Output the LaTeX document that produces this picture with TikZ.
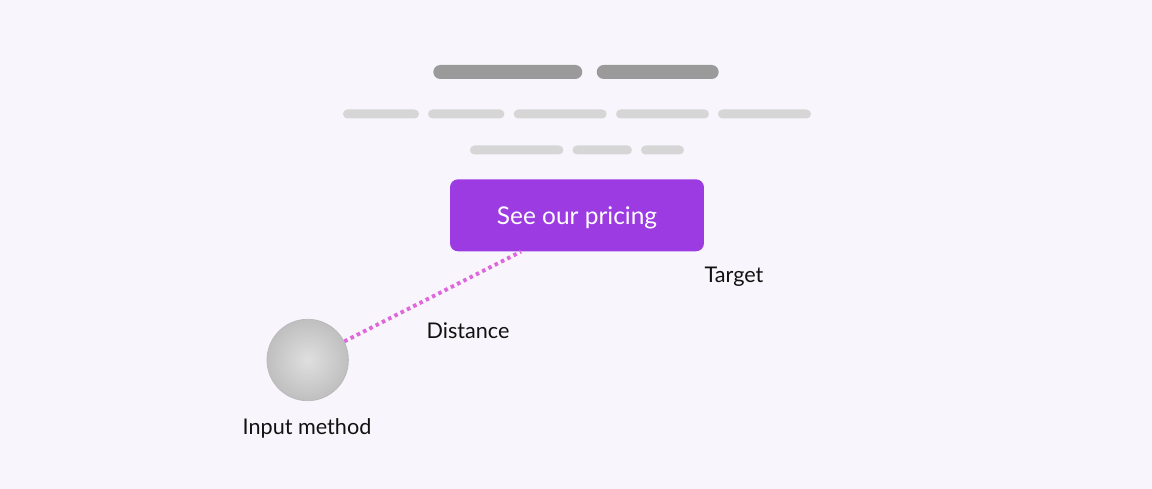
\documentclass[tikz,border=0pt]{standalone}
\usepackage{fontspec}
\setmainfont{Lato}
\usetikzlibrary{calc}

\definecolor{pagebg}{HTML}{F8F6FC}
\definecolor{headgray}{HTML}{9A9A9A}
\definecolor{linegray}{HTML}{D6D6D6}
\definecolor{btnpurple}{HTML}{9D3BE3}
\definecolor{dotpink}{HTML}{E066DC}
\definecolor{labelink}{HTML}{111111}

\tikzset{
  headbar/.style={fill=headgray, inner sep=0pt, minimum height=0.28cm, rounded corners=0.14cm},
  textbar/.style={fill=linegray, inner sep=0pt, minimum height=0.18cm, rounded corners=0.09cm},
  button/.style={fill=btnpurple, text=white, rounded corners=0.16cm, minimum width=5.08cm,
    minimum height=1.44cm, text height=13pt, text depth=3pt, font=\fontsize{13.9}{16}\selectfont},
  ball/.style={circle, draw=gray!55, line width=0.4pt, inner sep=0pt, minimum size=1.63cm,
    inner color=gray!25, outer color=gray!50},
  label/.style={text=labelink, font=\fontsize{12.3}{14}\selectfont},
  distline/.style={dotpink, line width=2.2pt, dash pattern=on 2pt off 2pt}
}

\begin{document}
\begin{tikzpicture}[x=0.02cm, y=-0.02cm]
% page
\fill[pagebg] (0,0) rectangle (1152,489);

% heading bars
\node[headbar, minimum width=2.98cm] (head1) at (507.8,72) {};
\node[headbar, minimum width=2.44cm] (head2) at (657.7,72) {};

% body text bars
\node[textbar, minimum width=1.52cm] (row1a) at (381,114) {};
\node[textbar, minimum width=1.53cm] (row1b) at (466.2,114) {};
\node[textbar, minimum width=1.86cm] (row1c) at (560.2,114) {};
\node[textbar, minimum width=1.86cm] (row1d) at (662.5,114) {};
\node[textbar, minimum width=1.86cm] (row1e) at (764.5,114) {};
\node[textbar, minimum width=1.87cm] (row2a) at (516.7,150) {};
\node[textbar, minimum width=1.19cm] (row2b) at (602.2,150) {};
\node[textbar, minimum width=0.86cm] (row2c) at (662.5,150) {};

% target button
\node[button] (btn) at (577,215.3) {See our pricing};
\node[label] (target) at (734,277) {Target};

% input method
\node[ball] (input) at (307.7,360) {};
\node[label] (inputlbl) at (307,428) {Input method};

% distance
\coordinate (hit) at ($(btn.south west)!0.28!(btn.south east)$);
\draw[distline] (input) -- (hit);
\node[label] (distlbl) at (468,331) {Distance};
\end{tikzpicture}
\end{document}
